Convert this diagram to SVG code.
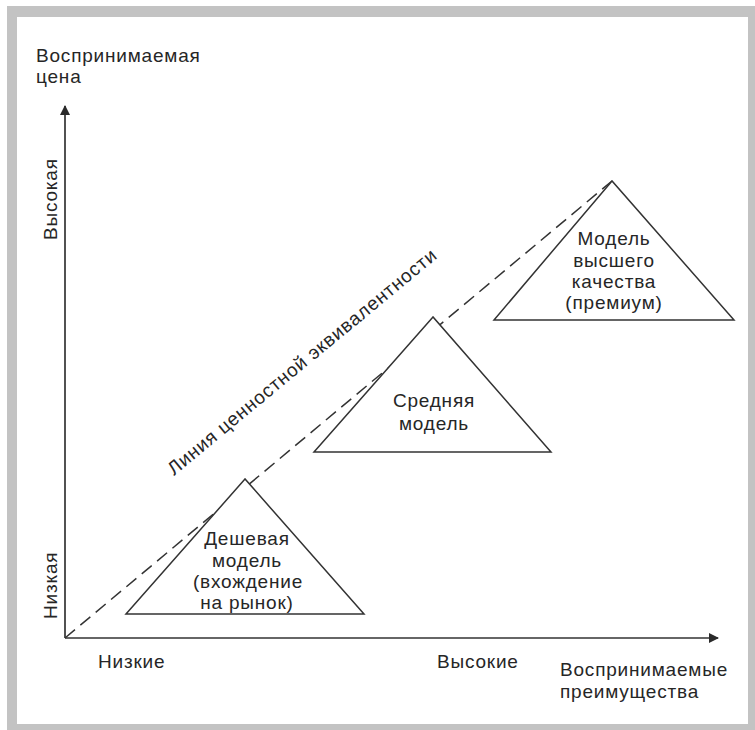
<svg xmlns="http://www.w3.org/2000/svg" width="755" height="730" viewBox="0 0 755 730">
<defs>
<style>
text{font-family:"Liberation Sans",Arial,sans-serif;font-size:19px;letter-spacing:0.8px;fill:#262626}
.c{text-anchor:middle}
.ln{stroke:#333;stroke-width:1.7;fill:none}
.tri{stroke:#333;stroke-width:1.5;fill:#fff}
.dash{stroke:#333;stroke-width:1.5;fill:none;stroke-dasharray:13 7}
</style>
<marker id="arr" viewBox="0 0 10 10" refX="9" refY="5" markerWidth="10" markerHeight="10" markerUnits="userSpaceOnUse" orient="auto">
<path d="M0,0 L10,5 L0,10 z" fill="#2a2a2a"/>
</marker>
</defs>
<rect x="7" y="6" width="748" height="724" fill="#c3c3c3"/>
<rect x="17" y="17" width="731" height="707" fill="#fff"/>
<g id="connectors">
<line class="dash" x1="65" y1="638" x2="612" y2="181"/>
<line class="ln" x1="65" y1="638" x2="65" y2="106" marker-end="url(#arr)"/>
<line class="ln" x1="65" y1="638" x2="718" y2="638" marker-end="url(#arr)"/>
</g>
<g id="cheap">
<polygon class="tri" points="245,479 126,614 364,614"/>
<text class="c" x="247" y="545">Дешевая</text>
<text class="c" x="247" y="567">модель</text>
<text class="c" x="248" y="588">(вхождение</text>
<text class="c" x="247" y="609">на рынок)</text>
</g>
<g id="middle">
<polygon class="tri" points="433,317 314,452 551,452"/>
<text class="c" x="434" y="407">Средняя</text>
<text class="c" x="434" y="430">модель</text>
</g>
<g id="premium">
<polygon class="tri" points="612,181 494,320 734,320"/>
<text class="c" x="614" y="245">Модель</text>
<text class="c" x="614" y="267">высшего</text>
<text class="c" x="614" y="288">качества</text>
<text class="c" x="614" y="309">(премиум)</text>
</g>
<g id="labels">
<text x="36" y="62">Воспринимаемая</text>
<text x="36" y="83">цена</text>
<text transform="translate(57,240) rotate(-90)">Высокая</text>
<text transform="translate(57,619) rotate(-90)">Низкая</text>
<text x="98" y="668">Низкие</text>
<text x="437" y="668">Высокие</text>
<text x="560" y="676">Воспринимаемые</text>
<text x="560" y="698">преимущества</text>
<text transform="translate(174,476) rotate(-39.6)">Линия ценностной эквивалентности</text>
</g>
</svg>
